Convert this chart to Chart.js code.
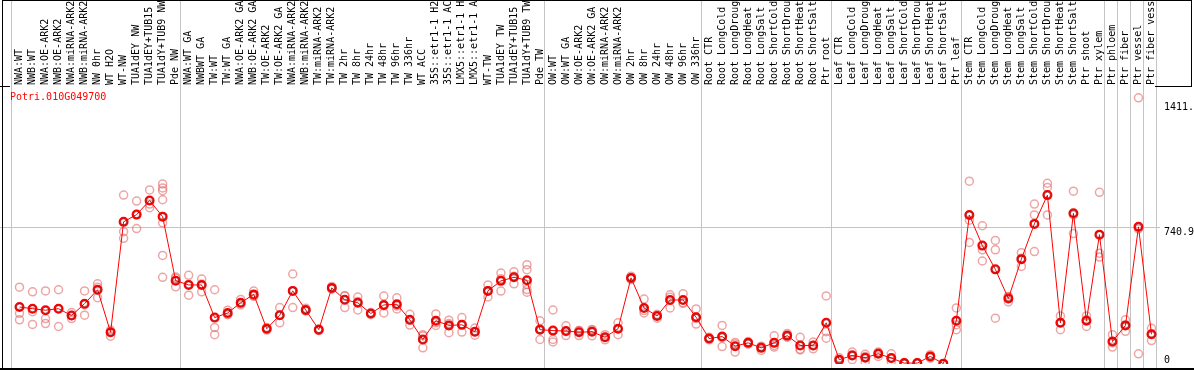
<!DOCTYPE html>
<html>
<head>
<meta charset="utf-8">
<script src="https://cdn.jsdelivr.net/npm/chart.js@4"></script>
<style>
  html, body { margin: 0; padding: 0; background: #fff; }
  #chart { display: block; }
</style>
</head>
<body>
<canvas id="chart" width="1194" height="370"></canvas>
<script>
var chart = null;

const geneName = 'Potri.010G049700';

const samples = [
    'NWA:WT', 'NWB:WT', 'NWA:OE-ARK2', 'NWB:OE-ARK2', 'NWA:miRNA-ARK2', 'NWB:miRNA-ARK2',
    'NW 0hr', 'WT H2O', 'WT-NW', 'TUA1dEY NW', 'TUA1dEY+TUB15', 'TUA1dY+TUB9 NW', 'Pde NW',
    'NWA:WT GA', 'NWBWT GA', 'TW:WT', 'TW:WT GA', 'NWA:OE-ARK2 GA', 'NWB:OE-ARK2 GA',
    'TW:OE-ARK2', 'TW:OE-ARK2 GA', 'NWA:miRNA-ARK2', 'NWB:miRNA-ARK2', 'TW:miRNA-ARK2', 'TW:miRNA-ARK2',
    'TW 2hr', 'TW 8hr', 'TW 24hr', 'TW 48hr', 'TW 96hr', 'TW 336hr', 'WT ACC',
    '35S::etr1-1 H2O', '35S::etr1-1 ACC', 'LMX5::etr1-1 H2O', 'LMX5::etr1-1 ACC',
    'WT-TW', 'TUA1dEY TW', 'TUA1dEY+TUB15', 'TUA1dY+TUB9 TW', 'Pde TW',
    'OW:WT', 'OW:WT GA', 'OW:OE-ARK2', 'OW:OE-ARK2 GA', 'OW:miRNA-ARK2', 'OW:miRNA-ARK2',
    'OW 2hr', 'OW 8hr', 'OW 24hr', 'OW 48hr', 'OW 96hr', 'OW 336hr',
    'Root CTR', 'Root LongCold', 'Root LongDrought', 'Root LongHeat', 'Root LongSalt',
    'Root ShortCold', 'Root ShortDrought', 'Root ShortHeat', 'Root ShortSalt', 'Ptr root',
    'Leaf CTR', 'Leaf LongCold', 'Leaf LongDrought', 'Leaf LongHeat', 'Leaf LongSalt',
    'Leaf ShortCold', 'Leaf ShortDrought', 'Leaf ShortHeat', 'Leaf ShortSalt', 'Ptr leaf',
    'Stem CTR', 'Stem LongCold', 'Stem LongDrought', 'Stem LongHeat', 'Stem LongSalt',
    'Stem ShortCold', 'Stem ShortDrought', 'Stem ShortHeat', 'Stem ShortSalt', 'Ptr shoot', 'Ptr xylem',
    'Ptr phloem', 'Ptr fiber', 'Ptr vessel', 'Ptr fiber vessel'
];

// first sample index of every experiment block (last entry = end)
const groupStarts = [0, 13, 41, 53, 63, 73, 84, 85, 86, 87, 88];

const means = [
    307, 298, 290, 298, 261, 325, 400, 171, 766, 805, 881, 794, 449,
    426, 426, 250, 275, 330, 375, 190, 263, 394, 291, 185, 410, 346, 330, 272,
    318, 322, 238, 132, 233, 208, 211, 174, 394, 448, 467, 451, 185,
    180, 178, 171, 174, 144, 190, 464, 302, 259, 345, 345, 252,
    137, 148, 96, 114, 87, 114, 153, 100, 100, 222,
    23, 46, 34, 55, 32, 5, 5, 41, 2, 233,
    803, 638, 510, 353, 565, 755, 910, 222, 812, 233, 697,
    121, 208, 739, 160
];

const replicates = [
    [414, 273, 238], [389, 282, 213], [394, 245, 218], [400, 298, 202], [277, 261, 245],
    [394, 318, 263], [432, 414, 357], [183, 171, 150], [910, 713, 677], [878, 805, 730],
    [938, 862, 842], [970, 949, 934, 885, 761, 585, 467], [469, 462, 416],
    [478, 429, 371], [458, 431, 389], [400, 197, 158], [290, 268, 266], [348, 325, 318],
    [393, 366, 366], [197, 190, 183], [304, 263, 222], [485, 394, 304], [300, 290, 285],
    [190, 185, 180], [418, 410, 403], [368, 366, 304], [361, 337, 291], [277, 272, 266],
    [366, 313, 275], [357, 313, 297], [268, 236, 210], [158, 151, 87], [270, 222, 208],
    [236, 218, 169], [250, 213, 172], [194, 174, 155], [426, 395, 361], [490, 460, 393],
    [497, 473, 432], [535, 508, 428, 401, 387], [233, 190, 132],
    [291, 132, 119], [206, 175, 153], [180, 180, 153], [186, 183, 152], [158, 144, 130],
    [222, 190, 158], [473, 464, 455], [350, 288, 275], [268, 262, 247], [373, 360, 302],
    [378, 330, 327], [297, 245, 215],
    [144, 137, 130], [208, 142, 94], [116, 108, 64], [121, 114, 107], [96, 92, 73],
    [152, 100, 91], [165, 150, 144], [144, 76, 80], [118, 100, 82], [367, 174, 139],
    [34, 20, 16], [64, 50, 23], [52, 40, 11], [64, 60, 41], [55, 30, 12],
    [8, 5, 2], [8, 4, 3], [50, 41, 32], [3, 2, 1], [302, 212, 185],
    [985, 775, 655], [745, 615, 555], [666, 615, 247], [364, 361, 334], [600, 570, 526],
    [862, 803, 606], [974, 951, 803], [259, 222, 185], [931, 803, 703], [259, 238, 202],
    [925, 597, 576],
    [158, 114, 91], [238, 210, 176], [1434, 55, 728], [192, 162, 126]
];

const yTicks = [0, 740.9, 1411.6];
const yMax = 1481.8;

const monoFont = '10px "DejaVu Sans Mono", "Liberation Mono", monospace';

const framePlugin = {
    id: 'frame',
    beforeDatasetsDraw(chart) {
        const {ctx, scales: {x, y}} = chart;
        const step = x.getPixelForValue(1) - x.getPixelForValue(0);
        ctx.save();
        ctx.strokeStyle = '#c4c4c4';
        ctx.lineWidth = 1;
        // block separators run through the label strip too
        groupStarts.forEach(function(i) {
            const px = Math.round(x.getPixelForValue(i) - step / 2 - 2) + 0.5;
            ctx.beginPath();
            ctx.moveTo(px, 0);
            ctx.lineTo(px, chart.height);
            ctx.stroke();
        });
        const mid = Math.round(y.getPixelForValue(yTicks[1])) + 0.5;
        ctx.beginPath();
        ctx.moveTo(0, mid);
        ctx.lineTo(1160, mid);
        ctx.stroke();
        ctx.restore();
    },
    afterDraw(chart) {
        const {ctx, scales: {y}} = chart;
        ctx.save();
        ctx.strokeStyle = '#000';
        ctx.lineWidth = 1;
        ctx.beginPath();
        ctx.moveTo(2.5, 0); ctx.lineTo(2.5, chart.height);
        ctx.moveTo(2, 0.5); ctx.lineTo(1192, 0.5);
        ctx.moveTo(1191.5, 0); ctx.lineTo(1191.5, 86);
        ctx.moveTo(0, 86.5); ctx.lineTo(10, 86.5);
        ctx.moveTo(1155, 86.5); ctx.lineTo(1192, 86.5);
        ctx.stroke();
        ctx.lineWidth = 2;
        ctx.beginPath();
        ctx.moveTo(0, 369); ctx.lineTo(chart.width, 369);
        ctx.stroke();

        ctx.font = monoFont;
        ctx.textBaseline = 'alphabetic';
        ctx.textAlign = 'left';
        ctx.fillStyle = '#000';
        yTicks.forEach(function(v) {
            const py = y.getPixelForValue(v);
            ctx.fillText(String(v), 1164, v === 0 ? py - 1.5 : py + 8);
        });

        ctx.fillStyle = '#ff0000';
        ctx.fillText(geneName, 10, 100);
        ctx.restore();
    }
};

function renderChart() {
    const ctx = document.getElementById('chart').getContext('2d');

    // one dataset per replicate slot, aligned with the sample labels
    const maxReps = Math.max.apply(null, replicates.map(r => r.length));
    const replicateSets = [];
    for (let k = 0; k < maxReps; k++) {
        replicateSets.push({
            label: 'replicate ' + (k + 1),
            data: replicates.map(r => (k < r.length ? r[k] : null)),
            showLine: false,
            pointRadius: 4,
            pointBorderWidth: 1.5,
            pointBorderColor: 'rgba(225, 105, 105, 0.6)',
            pointBackgroundColor: 'rgba(0,0,0,0)',
            order: 2
        });
    }

    chart = new Chart(ctx, {
        type: 'line',
        data: {
            labels: samples,
            datasets: [
                {
                    label: 'mean',
                    data: means,
                    borderColor: '#ff0000',
                    borderWidth: 1,
                    pointRadius: 4,
                    pointBorderWidth: 2,
                    pointBorderColor: '#ff0000',
                    pointBackgroundColor: 'rgba(0,0,0,0)',
                    order: 1
                },
                {
                    label: 'mean core',
                    data: means,
                    showLine: false,
                    pointRadius: 3,
                    pointBorderWidth: 1,
                    pointBorderColor: 'rgba(90, 0, 0, 0.55)',
                    pointBackgroundColor: 'rgba(0,0,0,0)',
                    order: 0
                }
            ].concat(replicateSets)
        },
        options: {
            responsive: false,
            animation: false,
            devicePixelRatio: 1,
            layout: {
                padding: {left: 13, right: 36, top: 0, bottom: 3}
            },
            plugins: {
                legend: {display: false},
                tooltip: {enabled: false}
            },
            scales: {
                x: {
                    position: 'top',
                    offset: true,
                    grid: {display: false, drawTicks: false},
                    border: {display: false},
                    ticks: {
                        autoSkip: false,
                        minRotation: 90,
                        maxRotation: 90,
                        padding: 4,
                        labelOffset: 12,
                        color: '#000',
                        font: {family: '"DejaVu Sans Mono", "Liberation Mono", monospace', size: 10}
                    },
                    afterFit: function(scale) {
                        scale.height = 89;
                    }
                },
                y: {
                    display: false,
                    min: 0,
                    max: yMax
                }
            }
        },
        plugins: [framePlugin]
    });
}

if (document.readyState !== 'loading') {
    renderChart();
} else {
    document.addEventListener('DOMContentLoaded', renderChart);
}
</script>
</body>
</html>
